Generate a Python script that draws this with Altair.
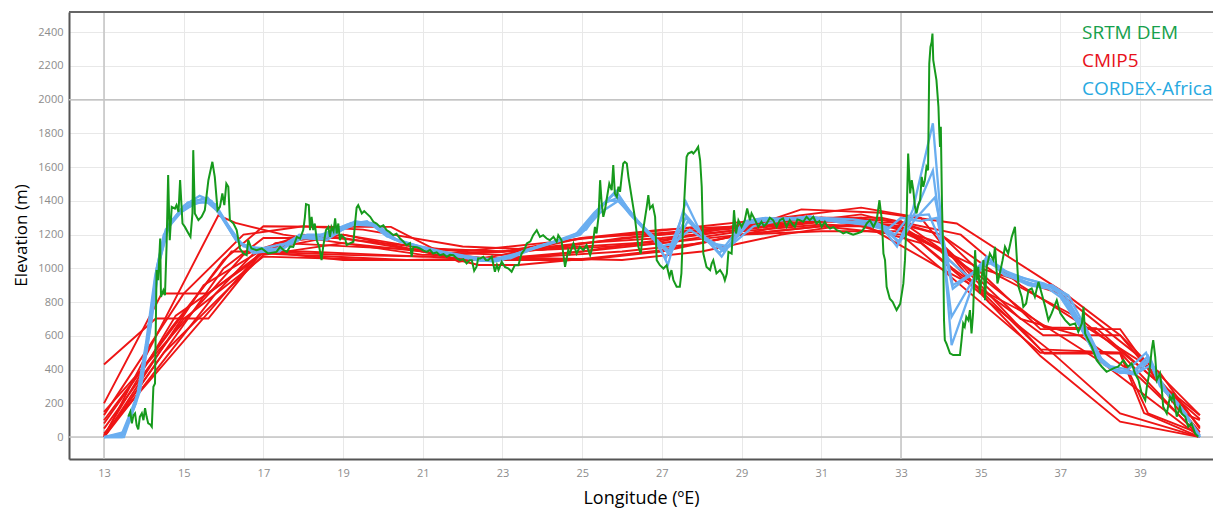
import altair as alt
import pandas as pd

# ---------------- data (longitude °E, elevation m) ----------------
srtm_profile = [
    (13.61, 121), (13.66, 150), (13.70, 81), (13.74, 130), (13.78, 141), (13.82, 70), (13.86, 45),
    (13.90, 120), (13.95, 141), (13.99, 100), (14.03, 171), (14.07, 120), (14.11, 81), (14.16, 75),
    (14.20, 61), (14.24, 298), (14.28, 318), (14.32, 990), (14.36, 930), (14.41, 1177), (14.43, 831),
    (14.49, 870), (14.53, 841), (14.57, 1128), (14.61, 1553), (14.65, 1167), (14.70, 1365), (14.78, 1355),
    (14.82, 1375), (14.87, 1335), (14.91, 1523), (14.97, 1266), (15.03, 1246), (15.12, 1207), (15.17, 1187),
    (15.22, 1326), (15.24, 1701), (15.28, 1326), (15.37, 1286), (15.45, 1306), (15.53, 1345), (15.62, 1523),
    (15.72, 1632), (15.78, 1543), (15.85, 1345), (15.91, 1365), (15.97, 1444), (16.02, 1375), (16.07, 1503),
    (16.12, 1483), (16.16, 1286), (16.25, 1266), (16.33, 1227), (16.41, 1118), (16.50, 1088), (16.58, 1078),
    (16.62, 1167), (16.70, 1118), (16.83, 1108), (16.96, 1118), (17.12, 1088), (17.33, 1098), (17.42, 1128),
    (17.50, 1110), (17.59, 1098), (17.67, 1130), (17.75, 1128), (17.84, 1187), (17.92, 1177), (18.00, 1227),
    (18.04, 1300), (18.07, 1381), (18.14, 1375), (18.17, 1227), (18.21, 1306), (18.25, 1227), (18.29, 1266),
    (18.34, 1167), (18.40, 1128), (18.46, 1049), (18.50, 1128), (18.57, 1227), (18.63, 1246), (18.67, 1187),
    (18.71, 1246), (18.76, 1220), (18.80, 1296), (18.84, 1207), (18.88, 1266), (18.92, 1167), (18.96, 1197),
    (19.05, 1177), (19.09, 1138), (19.17, 1148), (19.26, 1158), (19.30, 1266), (19.34, 1360), (19.38, 1375),
    (19.47, 1326), (19.53, 1340), (19.59, 1326), (19.68, 1306), (19.76, 1276), (19.84, 1266), (19.93, 1246),
    (20.01, 1255), (20.09, 1227), (20.17, 1215), (20.26, 1197), (20.34, 1205), (20.43, 1177), (20.51, 1160),
    (20.59, 1138), (20.68, 1150), (20.72, 1068), (20.76, 1128), (20.85, 1125), (20.93, 1118), (21.02, 1105),
    (21.10, 1098), (21.18, 1110), (21.26, 1088), (21.35, 1095), (21.43, 1078), (21.52, 1085), (21.60, 1069),
    (21.68, 1080), (21.77, 1078), (21.85, 1060), (21.93, 1049), (22.02, 1055), (22.10, 1029), (22.18, 1049),
    (22.23, 1049), (22.29, 986), (22.35, 1010), (22.39, 1060), (22.44, 1059), (22.52, 1069), (22.58, 1050),
    (22.64, 1049), (22.73, 1069), (22.81, 980), (22.86, 1020), (22.90, 990), (22.98, 1039), (23.06, 1009),
    (23.15, 999), (23.23, 980), (23.31, 1019), (23.40, 1019), (23.48, 1088), (23.55, 1110), (23.61, 1148),
    (23.70, 1160), (23.77, 1197), (23.86, 1227), (23.94, 1187), (24.02, 1197), (24.11, 1177), (24.19, 1167),
    (24.28, 1187), (24.36, 1158), (24.40, 1197), (24.48, 1167), (24.57, 1009), (24.65, 1108), (24.69, 1088),
    (24.78, 1148), (24.86, 1088), (24.94, 1128), (25.03, 1108), (25.11, 1138), (25.20, 1078), (25.26, 1128),
    (25.32, 1246), (25.36, 1207), (25.41, 1306), (25.45, 1523), (25.49, 1385), (25.53, 1306), (25.57, 1345),
    (25.61, 1404), (25.68, 1503), (25.74, 1464), (25.78, 1612), (25.82, 1444), (25.87, 1424), (25.91, 1484),
    (25.95, 1454), (25.99, 1543), (26.03, 1622), (26.07, 1632), (26.12, 1622), (26.16, 1543), (26.24, 1424),
    (26.32, 1306), (26.41, 1128), (26.47, 1088), (26.53, 1227), (26.62, 1365), (26.66, 1434), (26.70, 1355),
    (26.77, 1375), (26.83, 1306), (26.87, 1049), (26.95, 1019), (27.04, 999), (27.12, 1019), (27.19, 950),
    (27.24, 990), (27.29, 930), (27.37, 891), (27.45, 891), (27.49, 970), (27.54, 1306), (27.58, 1484),
    (27.62, 1661), (27.66, 1681), (27.75, 1691), (27.79, 1681), (27.86, 1701), (27.91, 1720), (27.96, 1641),
    (28.00, 1484), (28.04, 1088), (28.12, 1009), (28.21, 990), (28.25, 1029), (28.29, 1049), (28.37, 970),
    (28.46, 990), (28.54, 960), (28.58, 930), (28.63, 970), (28.67, 1098), (28.75, 1088), (28.81, 1345),
    (28.86, 1207), (28.92, 1286), (29.00, 1246), (29.08, 1286), (29.14, 1355), (29.21, 1286), (29.25, 1326),
    (29.34, 1286), (29.42, 1246), (29.50, 1276), (29.56, 1250), (29.63, 1266), (29.71, 1300), (29.79, 1286),
    (29.88, 1246), (29.96, 1286), (30.04, 1296), (30.13, 1246), (30.21, 1286), (30.28, 1260), (30.34, 1246),
    (30.40, 1290), (30.46, 1286), (30.55, 1276), (30.63, 1306), (30.71, 1286), (30.80, 1306), (30.88, 1266),
    (30.95, 1280), (31.01, 1246), (31.09, 1276), (31.15, 1250), (31.22, 1236), (31.30, 1245), (31.39, 1227),
    (31.47, 1220), (31.55, 1207), (31.63, 1215), (31.72, 1207), (31.80, 1200), (31.89, 1207), (32.01, 1217),
    (32.08, 1240), (32.14, 1266), (32.22, 1286), (32.31, 1246), (32.39, 1286), (32.46, 1404), (32.52, 1286),
    (32.56, 1088), (32.60, 1049), (32.64, 891), (32.72, 820), (32.79, 802), (32.85, 772), (32.89, 753),
    (32.98, 790), (33.06, 911), (33.10, 1049), (33.14, 1286), (33.18, 1681), (33.23, 1444), (33.27, 1523),
    (33.31, 1464), (33.35, 1365), (33.39, 1326), (33.44, 1380), (33.48, 1404), (33.52, 1543), (33.56, 1484),
    (33.60, 1523), (33.64, 1602), (33.68, 1582), (33.71, 2214), (33.74, 2313), (33.77, 2343), (33.79, 2392),
    (33.81, 2234), (33.85, 2175), (33.89, 2116), (33.94, 1958), (33.96, 1819), (33.98, 1720), (34.00, 1839),
    (34.03, 1365), (34.06, 1088), (34.08, 693), (34.10, 575), (34.14, 555), (34.23, 496), (34.31, 486),
    (34.48, 486), (34.52, 575), (34.56, 674), (34.60, 654), (34.64, 713), (34.69, 693), (34.73, 753),
    (34.77, 614), (34.81, 733), (34.86, 1108), (34.90, 930), (34.94, 1009), (34.98, 851), (35.02, 930),
    (35.07, 1049), (35.11, 812), (35.15, 1009), (35.23, 1088), (35.32, 1049), (35.36, 1128), (35.42, 911),
    (35.48, 970), (35.55, 1049), (35.61, 1128), (35.69, 1088), (35.78, 1187), (35.86, 1246), (35.90, 1088),
    (35.95, 891), (36.03, 831), (36.07, 772), (36.14, 792), (36.20, 871), (36.28, 881), (36.36, 831),
    (36.45, 920), (36.53, 851), (36.62, 772), (36.70, 693), (36.78, 733), (36.91, 812), (37.00, 733),
    (37.12, 693), (37.24, 664), (37.37, 674), (37.45, 624), (37.54, 674), (37.58, 772), (37.62, 614),
    (37.70, 575), (37.79, 535), (37.91, 456), (38.04, 417), (38.16, 387), (38.33, 407), (38.45, 417),
    (38.58, 456), (38.70, 417), (38.79, 437), (38.87, 378), (38.96, 338), (39.04, 259), (39.13, 219),
    (39.17, 298), (39.23, 378), (39.29, 516), (39.33, 575), (39.38, 476), (39.42, 338), (39.50, 378),
    (39.54, 298), (39.58, 180), (39.67, 140), (39.75, 239), (39.79, 219), (39.83, 259), (39.92, 121),
    (40.00, 180), (40.04, 140), (40.13, 121), (40.21, 61), (40.29, 81), (40.38, 22), (40.46, 2),
]

cmip5_runs = [
    [(13, 430), (14.3, 703), (15.62, 703), (16.9, 1080), (17.5, 1150), (20, 1120), (23, 1100), (25, 1150), (27, 1200), (30, 1280), (31, 1300), (33, 1250), (34.3, 1000), (36.57, 604), (38.5, 604), (40.5, 30)],
    [(13, 200), (14.45, 851), (15.62, 851), (17.0, 1100), (19, 1050), (21, 1050), (23, 1050), (25, 1050), (27, 1100), (29, 1200), (31, 1250), (33, 1200), (35, 800), (36.5, 500), (38.5, 500), (40.5, 0)],
    [(13, 0), (15.87, 1315), (16.3, 1270), (17.5, 1200), (19, 1150), (21, 1100), (23, 1080), (25, 1150), (27, 1180), (29, 1230), (30.5, 1350), (32.5, 1330), (34.4, 1266), (37.0, 871), (38.5, 604), (40.5, 130)],
    [(13, 100), (16, 1050), (17, 1250), (18.9, 1246), (20.2, 1246), (21.9, 1040), (23, 1080), (25, 1180), (27, 1210), (29, 1250), (31, 1300), (33, 1280), (35, 950), (36.6, 650), (37.9, 646), (40.5, 107)],
    [(13, 150), (16.5, 1080), (18, 1200), (20, 1150), (22, 1100), (24, 1150), (26, 1200), (28, 1250), (30, 1300), (32, 1360), (33.5, 1300), (35.2, 800), (36.7, 520), (38.5, 140), (40.5, 0)],
    [(13, 0), (15.8, 850), (16.8, 1100), (19, 1200), (21, 1100), (22.4, 1020), (23.4, 1020), (25.2, 1060), (27, 1108), (29, 1200), (31, 1250), (32, 1250), (33.5, 1150), (35, 850), (36.5, 480), (38.5, 91), (40.5, 0)],
    [(13, 50), (15, 700), (17, 1070), (20, 1050), (22, 1050), (24, 1070), (26, 1100), (28, 1150), (30, 1250), (32, 1300), (34, 1150), (36, 700), (37.5, 600), (39, 350), (40.5, 10)],
    [(13, 0), (14.5, 500), (16, 850), (17, 1080), (19, 1150), (21, 1080), (23, 1100), (25, 1180), (27, 1230), (29, 1250), (31, 1280), (33, 1270), (34, 1200), (36.5, 640), (38.5, 640), (40, 150), (40.5, 100)],
    [(13, 10), (14.8, 720), (16.5, 1000), (17.3, 1150), (19, 1200), (21, 1120), (23, 1100), (25, 1120), (27, 1150), (29, 1200), (31, 1220), (33, 1220), (35, 1000), (37, 850), (39.5, 380), (40.5, 50)],
    [(13, 130), (15, 850), (16.5, 1200), (18, 1250), (19.5, 1230), (22, 1130), (24, 1110), (26, 1180), (28, 1220), (30, 1260), (32, 1320), (34, 1200), (35.5, 950), (37.5, 700), (40.5, 130)],
    [(13, 0), (16, 1000), (17, 1180), (19, 1180), (21, 1100), (23, 1050), (25, 1100), (27, 1150), (29, 1220), (31, 1260), (33, 1240), (34, 1100), (36.5, 520), (38.5, 500), (39.2, 140), (40.5, 20)],
    [(13, 80), (14.7, 650), (16.2, 1100), (18, 1100), (20, 1080), (22, 1060), (24, 1060), (26, 1050), (28, 1100), (30, 1200), (32, 1270), (34, 1000), (36, 750), (38, 450), (40.5, 0)],
    [(13, 0), (15.5, 900), (16.9, 1100), (19, 1080), (21, 1070), (23, 1100), (25, 1130), (27, 1160), (29, 1260), (30.5, 1300), (32.5, 1300), (34.5, 1200), (36, 900), (38, 600), (39.2, 420), (40.5, 60)],
    [(13, 20), (16.9, 1090), (20.6, 1050), (23, 1060), (25, 1100), (27, 1170), (29, 1230), (31, 1280), (33, 1250), (34.4, 1050), (36.6, 495), (38.5, 495), (39.1, 142), (40.5, 0)],
]

cordex_runs = [
    [(13.0, 0), (13.45, 0), (13.85, 250), (14.1, 600), (14.32, 1000), (14.55, 1230), (14.9, 1340), (15.3, 1400), (15.6, 1420), (15.9, 1330), (16.3, 1170), (16.8, 1100), (17.4, 1100), (17.9, 1200), (18.4, 1180), (19.2, 1270), (19.7, 1270), (20.2, 1180), (21.3, 1100), (22.4, 1050), (22.8, 1040), (23.5, 1100), (24.0, 1140), (24.9, 1200), (25.4, 1350), (25.85, 1460), (26.3, 1300), (26.9, 1150), (27.15, 1020), (27.6, 1395), (28.0, 1200), (28.5, 1070), (29.1, 1280), (29.6, 1300), (30.3, 1290), (31.2, 1290), (32.0, 1270), (32.5, 1250), (32.9, 1130), (33.3, 1350), (33.8, 1860), (34.27, 545), (34.8, 900), (35.15, 1070), (35.5, 980), (36.2, 900), (36.7, 880), (37.0, 830), (37.5, 650), (37.9, 480), (38.3, 400), (38.8, 380), (39.2, 480), (39.5, 300), (40.0, 180), (40.5, 0)],
    [(13.0, 0), (13.45, 20), (13.9, 280), (14.15, 650), (14.35, 1020), (14.6, 1250), (15.0, 1370), (15.4, 1430), (15.7, 1400), (16.0, 1300), (16.4, 1150), (16.9, 1110), (17.5, 1120), (18.0, 1180), (18.6, 1170), (19.3, 1280), (19.8, 1260), (20.3, 1170), (21.4, 1090), (22.5, 1060), (23.0, 1050), (23.6, 1110), (24.2, 1150), (25.0, 1220), (25.5, 1380), (25.9, 1420), (26.4, 1280), (27.0, 1140), (27.2, 1100), (27.6, 1300), (28.1, 1180), (28.6, 1110), (29.2, 1270), (29.7, 1290), (30.5, 1300), (31.3, 1280), (32.1, 1260), (32.6, 1230), (32.95, 1160), (33.35, 1330), (33.8, 1580), (34.27, 713), (34.85, 950), (35.2, 1060), (35.6, 960), (36.3, 910), (36.8, 900), (37.1, 850), (37.6, 640), (38.0, 450), (38.4, 390), (38.9, 370), (39.25, 460), (39.6, 280), (40.1, 150), (40.5, 0)],
    [(13.0, 0), (13.5, 30), (13.95, 330), (14.2, 700), (14.4, 1050), (14.65, 1270), (15.1, 1390), (15.5, 1410), (15.8, 1380), (16.1, 1260), (16.5, 1130), (17.0, 1120), (17.6, 1150), (18.1, 1200), (18.7, 1200), (19.3, 1260), (19.9, 1250), (20.4, 1160), (21.5, 1100), (22.6, 1050), (23.2, 1060), (23.8, 1120), (24.5, 1170), (25.1, 1230), (25.6, 1400), (26.0, 1400), (26.5, 1250), (27.0, 1130), (27.3, 1150), (27.7, 1230), (28.2, 1150), (28.7, 1130), (29.3, 1250), (29.9, 1280), (30.7, 1310), (31.5, 1270), (32.2, 1280), (32.7, 1240), (33.0, 1300), (33.5, 1280), (33.9, 1300), (34.3, 880), (34.9, 990), (35.3, 1040), (35.7, 970), (36.4, 920), (36.9, 880), (37.2, 840), (37.7, 620), (38.1, 430), (38.5, 380), (39.0, 390), (39.3, 430), (39.7, 260), (40.2, 120), (40.5, 0)],
    [(13.0, 0), (13.45, 10), (13.8, 200), (14.05, 550), (14.28, 950), (14.5, 1200), (14.85, 1320), (15.25, 1380), (15.55, 1400), (15.85, 1340), (16.25, 1190), (16.75, 1090), (17.3, 1110), (17.85, 1190), (18.35, 1190), (19.1, 1260), (19.6, 1280), (20.1, 1190), (21.2, 1110), (22.3, 1060), (22.7, 1050), (23.4, 1090), (23.9, 1130), (24.8, 1190), (25.3, 1330), (25.8, 1440), (26.2, 1320), (26.8, 1170), (27.1, 1060), (27.55, 1330), (27.95, 1220), (28.45, 1090), (29.0, 1260), (29.5, 1280), (30.2, 1300), (31.0, 1300), (31.8, 1290), (32.4, 1270), (32.85, 1200), (33.2, 1310), (33.7, 1320), (34.2, 1050), (34.7, 950), (35.1, 1050), (35.45, 1000), (36.1, 940), (36.6, 910), (36.95, 860), (37.4, 700), (37.85, 500), (38.25, 420), (38.7, 400), (39.15, 500), (39.45, 330), (39.95, 200), (40.5, 10)],
    [(13.0, 0), (13.5, 0), (13.9, 270), (14.15, 640), (14.38, 1030), (14.6, 1240), (15.0, 1350), (15.35, 1390), (15.65, 1390), (15.95, 1310), (16.35, 1160), (16.85, 1100), (17.45, 1110), (17.95, 1190), (18.5, 1175), (19.25, 1265), (19.75, 1265), (20.25, 1175), (21.35, 1095), (22.45, 1045), (22.9, 1045), (23.55, 1100), (24.1, 1140), (24.95, 1200), (25.45, 1330), (25.9, 1400), (26.35, 1290), (26.95, 1140), (27.2, 1080), (27.65, 1280), (28.05, 1190), (28.55, 1100), (29.15, 1270), (29.65, 1290), (30.4, 1295), (31.3, 1285), (32.05, 1265), (32.55, 1250), (32.95, 1150), (33.35, 1290), (33.85, 1420), (34.3, 900), (34.85, 980), (35.2, 1060), (35.55, 990), (36.25, 905), (36.75, 890), (37.05, 840), (37.55, 660), (37.95, 470), (38.35, 400), (38.85, 385), (39.25, 470), (39.55, 290), (40.05, 170), (40.5, 0)],
]

legend_labels = ["SRTM DEM", "CMIP5", "CORDEX-Africa"]
x_ticks = [13, 15, 17, 19, 21, 23, 25, 27, 29, 31, 33, 35, 37, 39]
y_ticks = [0, 200, 400, 600, 800, 1000, 1200, 1400, 1600, 1800, 2000, 2200, 2400]
strong_grid_lon = [13, 33]
strong_grid_elev = [0, 2000]

# ---------------- tables ----------------
def runs_frame(runs):
    rows = []
    for r, run in enumerate(runs):
        for i, (lon, elev) in enumerate(run):
            rows.append({"run": r, "i": i, "lon": lon, "elev": elev})
    return pd.DataFrame(rows)

srtm_df = pd.DataFrame([{"i": i, "lon": a, "elev": b} for i, (a, b) in enumerate(srtm_profile)])
cmip_df = runs_frame(cmip5_runs)
cordex_df = runs_frame(cordex_runs)

W, H = 1144, 447
FONT = "Open Sans"
GREEN, RED, BLUE = "#169a1c", "#ee1515", "#6aaef0"
LEG_COLORS = ["#16a04c", "#e8101a", "#27a9e1"]

xs = alt.Scale(domain=[12.122, 40.83], nice=False, zero=False)
ys = alt.Scale(domain=[-130, 2520], nice=False, zero=False)

x_axis = alt.Axis(values=x_ticks, grid=True, gridColor="#e8e8e8", gridWidth=1, ticks=False,
                  domain=True, domainColor="#555555", domainWidth=2, format="d",
                  labelColor="#8c8c8c", labelFont=FONT, labelFontSize=11, labelPadding=8,
                  title="Longitude (ºE)", titleFont=FONT, titleFontSize=18, titleFontWeight="normal",
                  titleColor="#000000", titleX=572, titleY=39, titleAlign="center", titleBaseline="middle")
y_axis = alt.Axis(values=y_ticks, grid=True, gridColor="#e8e8e8", gridWidth=1, ticks=False,
                  domain=True, domainColor="#555555", domainWidth=2, format="d",
                  labelColor="#8c8c8c", labelFont=FONT, labelFontSize=11, labelPadding=6,
                  title="Elevation (m)", titleFont=FONT, titleFontSize=17, titleFontWeight="normal",
                  titleColor="#000000", titleX=-48, titleY=223, titleAngle=270,
                  titleAlign="center", titleBaseline="middle")

base_x = alt.X("lon:Q", scale=xs, axis=x_axis)
base_y = alt.Y("elev:Q", scale=ys, axis=y_axis)

vgrid = alt.Chart(pd.DataFrame({"lon": strong_grid_lon})).mark_rule(color="#c4c4c4", strokeWidth=1.5).encode(
    x=alt.X("lon:Q", scale=xs, axis=x_axis))
hgrid = alt.Chart(pd.DataFrame({"elev": strong_grid_elev})).mark_rule(color="#c4c4c4", strokeWidth=1.5).encode(
    y=alt.Y("elev:Q", scale=ys, axis=y_axis))
top_border = alt.Chart(pd.DataFrame({"a": [0]})).mark_rule(color="#666666", strokeWidth=2).encode(
    x=alt.value(0), x2=alt.value(W), y=alt.value(0))

red = alt.Chart(cmip_df).mark_line(color=RED, strokeWidth=1.9, clip=True).encode(
    x=base_x, y=base_y, detail="run:N", order="i:Q")
blue = alt.Chart(cordex_df).mark_line(color=BLUE, strokeWidth=2.3, clip=True).encode(
    x=base_x, y=base_y, detail="run:N", order="i:Q")
green = alt.Chart(srtm_df).mark_line(color=GREEN, strokeWidth=2, clip=True).encode(
    x=base_x, y=base_y, order="i:Q")

leg_layers = []
for k, (lab, col) in enumerate(zip(legend_labels, LEG_COLORS)):
    leg_layers.append(
        alt.Chart(pd.DataFrame({"t": [lab]})).mark_text(
            align="left", baseline="middle", font=FONT, fontSize=19, color=col
        ).encode(text="t:N", x=alt.value(1013), y=alt.value(21 + k * 28))
    )

chart = alt.layer(vgrid, hgrid, red, blue, green, top_border, *leg_layers).properties(
    width=W, height=H,
    padding={"left": 61, "top": 4, "right": 0, "bottom": 50},
    autosize=alt.AutoSizeParams(type="none"),
).configure_view(stroke=None).configure(background="white")

chart.save("out.html", embed_options={"renderer": "svg", "actions": False})
